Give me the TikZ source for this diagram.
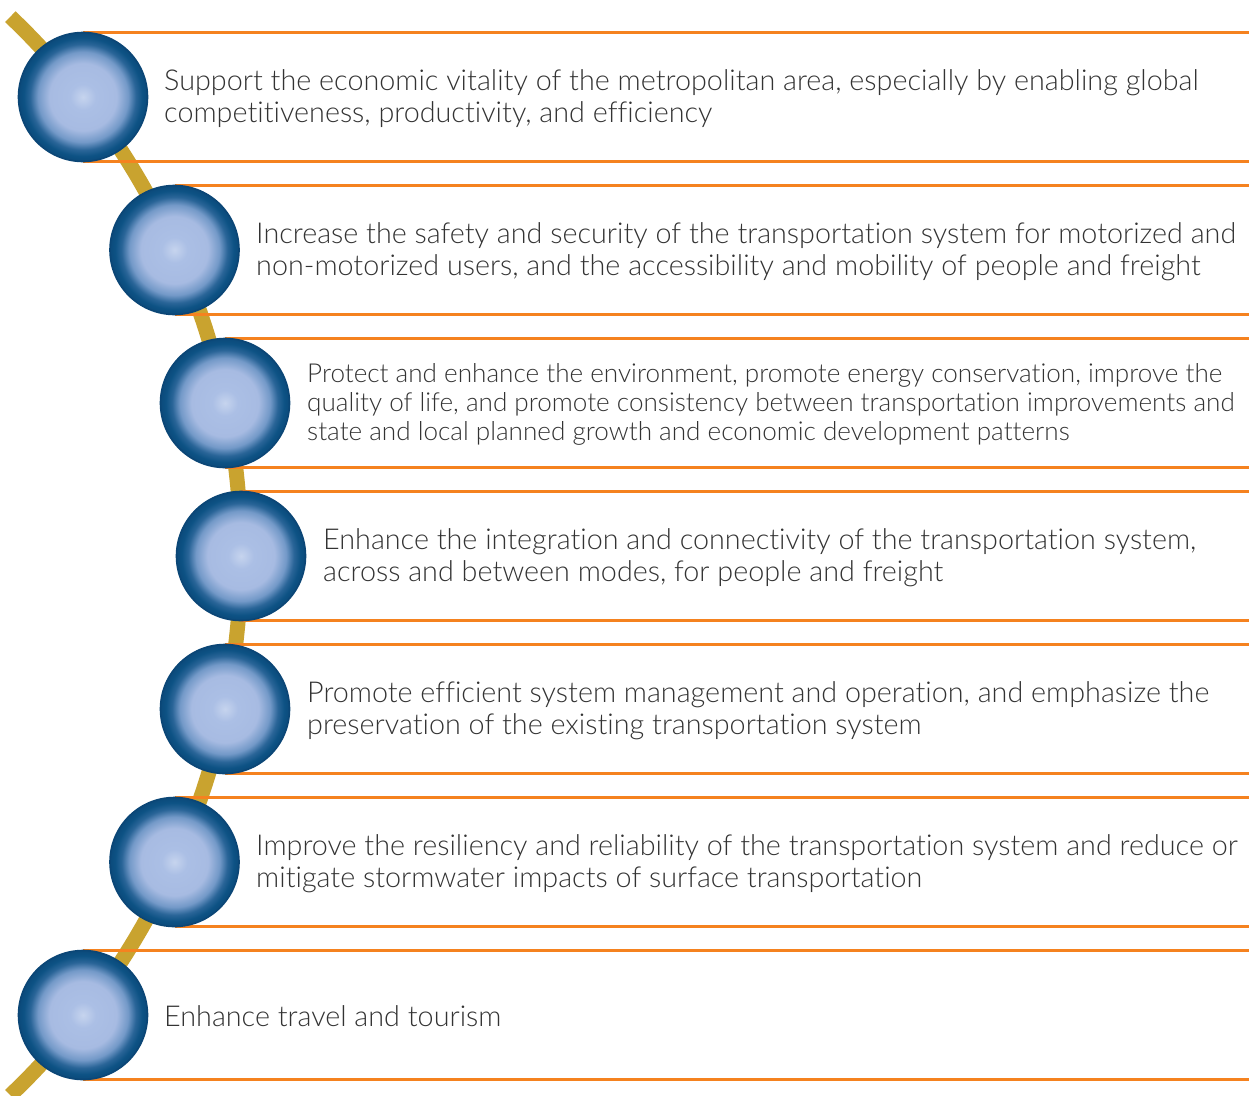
\documentclass[tikz,border=0pt]{standalone}
\usepackage{fontspec}
\setmainfont{Lato Light}[Ligatures={NoCommon}]
\definecolor{gold}{HTML}{C9A32F}
\definecolor{orng}{HTML}{F5821F}
\definecolor{ballrim}{HTML}{0B4676}
\definecolor{txt}{HTML}{333333}
\definecolor{bA}{HTML}{C6D4EE}
\definecolor{bB}{HTML}{ABBFE5}
\definecolor{bC}{HTML}{A7BBE2}
\definecolor{bD}{HTML}{7399C8}
\definecolor{bE}{HTML}{2A6598}
\definecolor{bF}{HTML}{0D5284}
\definecolor{bG}{HTML}{0B4A7B}
\pgfdeclareradialshading{ballshade}{\pgfpoint{0bp}{0bp}}{%
  color(0bp)=(bA); color(5bp)=(bB); color(13bp)=(bC); color(17.5bp)=(bD);
  color(20.5bp)=(bE); color(23bp)=(bF); color(25bp)=(bG); color(50bp)=(bG)}
\tikzset{
  ball/.style={circle, minimum size=129pt, inner sep=0pt, shading=ballshade, draw=ballrim, line width=1.6pt},
  bandline/.style={draw=orng, line width=3.5pt},
  goal/.style={anchor=west, align=left, text=txt, font=\fontsize{28.75}{31.5}\selectfont, inner sep=0pt},
  goalsmall/.style={goal, font=\fontsize{26.1}{28.6}\selectfont},
}
\begin{document}
\begin{tikzpicture}[x=1pt, y=-1pt]
\useasboundingbox (0,0) rectangle (1249,1095);
\fill[white] (0,0) rectangle (1249,1095);
% gold curve
\draw[gold, line width=15pt] plot[domain=-46.3:46.3, samples=80, smooth] ({-505+746*cos(\x)}, {556+746*sin(\x)});
% band lines
\foreach \cx/\cy in {83/97, 174.5/250, 225/403, 241/556, 225/709, 174.5/862, 83/1015}{
  \coordinate (tl) at (\cx,\cy-64.5);
  \coordinate (bl) at (\cx,\cy+64.5);
  \draw[bandline] (tl) -- (1249,\cy-64.5);
  \draw[bandline] (bl) -- (1249,\cy+64.5);
}
% circles
\node[ball] (c1) at (83,97) {};
\node[ball] (c2) at (174.5,250) {};
\node[ball] (c3) at (225,403) {};
\node[ball] (c4) at (241,556) {};
\node[ball] (c5) at (225,709) {};
\node[ball] (c6) at (174.5,862) {};
\node[ball] (c7) at (83,1015) {};
% texts
\node[goal] (t1) at (164,98.5) {Support the economic vitality of the metropolitan area, especially by enabling global\\competitiveness, productivity, and efficiency};
\node[goal] (t2) at (256,251.5) {Increase the safety and security of the transportation system for motorized and\\non-motorized users, and the accessibility and mobility of people and freight};
\node[goalsmall] (t3) at (307,404.5) {Protect and enhance the environment, promote energy conservation, improve the\\quality of life, and promote consistency between transportation improvements and\\state and local planned growth and economic development patterns};
\node[goal] (t4) at (323,557.5) {Enhance the integration and connectivity of the transportation system,\\across and between modes, for people and freight};
\node[goal] (t5) at (307,710.5) {Promote efficient system management and operation, and emphasize the\\preservation of the existing transportation system};
\node[goal] (t6) at (256,863.5) {Improve the resiliency and reliability of the transportation system and reduce or\\mitigate stormwater impacts of surface transportation};
\node[goal] (t7) at (164,1016.5) {Enhance travel and tourism};
\end{tikzpicture}
\end{document}
